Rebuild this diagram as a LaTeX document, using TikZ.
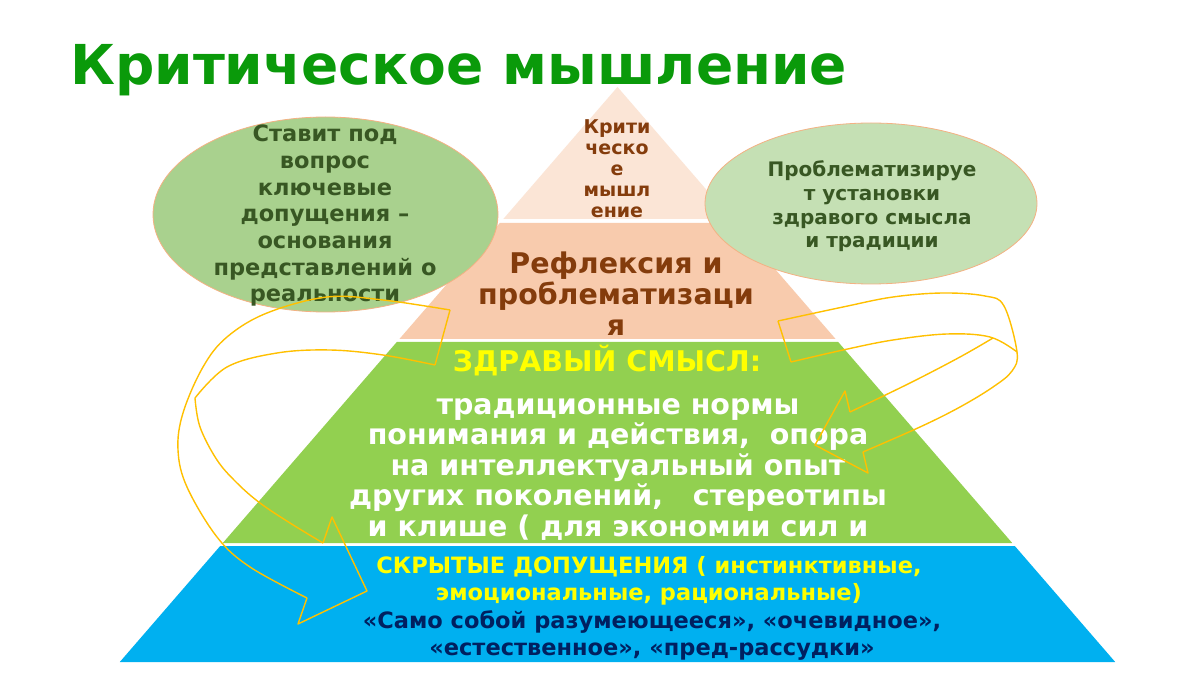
\documentclass[tikz,border=0pt]{standalone}
\usepackage{fontspec}
\setmainfont{DejaVu Sans}
\definecolor{titlegreen}{HTML}{0A9A0A}
\definecolor{tierA}{HTML}{FBE5D6}
\definecolor{tierB}{HTML}{F8CBAD}
\definecolor{tierC}{HTML}{92D050}
\definecolor{tierD}{HTML}{00B0F0}
\definecolor{ellL}{HTML}{A9D18E}
\definecolor{ellR}{HTML}{C5E0B4}
\definecolor{ellborder}{HTML}{F4B183}
\definecolor{darkgreen}{HTML}{385723}
\definecolor{brown}{HTML}{843C0C}
\definecolor{navy}{HTML}{002060}
\definecolor{arrowyellow}{HTML}{FFC000}
\definecolor{textyellow}{HTML}{FFFF00}
\begin{document}
\begin{tikzpicture}[x=1pt,y=-1pt,
  txt/.style={inner sep=0pt, align=center, anchor=base},
  ellipseshape/.style={draw=ellborder, line width=0.8pt},
  curvearrow/.style={draw=arrowyellow, line width=1.4pt, line join=round}]
\useasboundingbox (0,0) rectangle (1200,676);
\fill[white] (0,0) rectangle (1200,676);
% pyramid tiers
\fill[tierA] (617.5,87) -- (731.7,219) -- (503.3,219) -- cycle;
\fill[tierB] (499.8,223) -- (735.2,223) -- (835.6,339) -- (399.4,339) -- cycle;
\fill[tierC] (396.8,342) -- (838.2,342) -- (1012.2,543) -- (222.8,543) -- cycle;
\fill[tierD] (220.2,546) -- (1014.8,546) -- (1115.2,662) -- (119.8,662) -- cycle;
% pyramid texts (anchor = baseline of last line)
\node[txt, font=\fontsize{19}{21}\selectfont\bfseries, text=brown] (t1) at (617,218)
  {Крити\\ческо\\е\\мышл\\ение};
\node[txt, font=\fontsize{28.5}{31}\selectfont\bfseries, text=brown] (t2) at (616,336)
  {Рефлексия и\\проблематизаци\\я};
\node[txt, font=\fontsize{28.5}{30}\selectfont\bfseries, text=textyellow] (t3h) at (607,372)
  {ЗДРАВЫЙ СМЫСЛ:};
\node[txt, font=\fontsize{28.5}{30.5}\selectfont\bfseries, text=white] (t3) at (618,536)
  {традиционные нормы\\понимания и действия,\ \ опора\\на интеллектуальный опыт\\других поколений,\ \ \ стереотипы\\и клише ( для экономии сил и};
\node[txt, font=\fontsize{22.5}{27}\selectfont\bfseries, text=textyellow] (t4a) at (649,600)
  {СКРЫТЫЕ ДОПУЩЕНИЯ ( инстинктивные,\\эмоциональные, рациональные)};
\node[txt, font=\fontsize{22.5}{27}\selectfont\bfseries, text=navy] (t4b) at (652,655)
  {«Само собой разумеющееся», «очевидное»,\\«естественное», «пред-рассудки»};
% ellipses
\draw[ellipseshape, fill=ellL] (325.5,214.5) ellipse [x radius=172.5, y radius=97.5];
\draw[ellipseshape, fill=ellR] (871,203.5) ellipse [x radius=166, y radius=80.5];
\node[txt, font=\fontsize{22.5}{26.7}\selectfont\bfseries, text=darkgreen] (eL) at (325,302)
  {Ставит под\\вопрос\\ключевые\\допущения –\\основания\\представлений о\\реальности};
\node[txt, font=\fontsize{20}{23.7}\selectfont\bfseries, text=darkgreen] (eR) at (872,248)
  {Проблематизируе\\т установки\\здравого смысла\\и традиции};
% title
\node[anchor=base west, inner sep=0pt, font=\fontsize{55}{60}\selectfont\bfseries, text=titlegreen] (title) at (70,85)
  {Критическое мышление};
% left curved arrow
\draw[curvearrow] plot[smooth, tension=0.6] coordinates {(450,310) (383,300) (327,297) (267,313) (227,337) (203,367) (183,413) (178,450) (187,487) (217,537) (250,567) (307,598)};
\draw[curvearrow] plot[smooth, tension=0.6] coordinates {(435,365) (383,355) (330,350) (277,353) (227,367) (195,398)};
\draw[curvearrow] plot[smooth, tension=0.6] coordinates {(195,398) (200,427) (217,460) (237,483) (260,503) (290,523) (323,543)};
\draw[curvearrow] (307,598) -- (298,624) -- (367,591) -- (332,517) -- (323,543);
\draw[curvearrow] (450,310) -- (435,365);
% right curved arrow
\draw[curvearrow] plot[smooth, tension=0.6] coordinates {(778,321) (843,307) (893,297) (943,293) (985,296) (1004,306) (1017,352) (1012,371) (993,387) (960,407) (920,427) (863,452)};
\draw[curvearrow] plot[smooth, tension=0.6] coordinates {(791,362) (843,350) (893,340) (947,334) (990,337) (1017,352)};
\draw[curvearrow] plot[smooth, tension=0.6] coordinates {(993,338) (960,357) (910,383) (850,412)};
\draw[curvearrow] (850,412) -- (845,391) -- (815,445) -- (868,473) -- (863,452);
\draw[curvearrow] (778,321) -- (791,362);
\end{tikzpicture}
\end{document}
